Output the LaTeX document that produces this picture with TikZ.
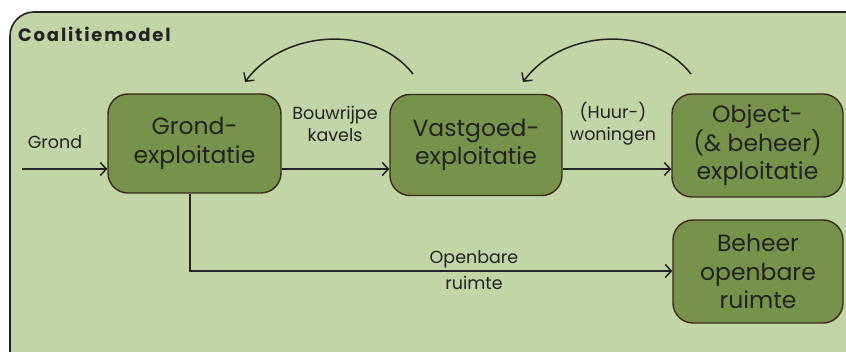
\documentclass[tikz,border=0pt]{standalone}
\usepackage{fontspec}
\setmainfont{Poppins}
\usetikzlibrary{arrows.meta,calc}

\definecolor{panelfill}{RGB}{194,213,166}
\definecolor{boxfill}{RGB}{119,147,75}
\definecolor{boxline}{RGB}{60,40,30}
\definecolor{ink}{RGB}{35,35,35}

\tikzset{
  panel/.style={draw=ink, line width=1.6pt, fill=panelfill, rounded corners=24pt},
  stage/.style={draw=boxline, line width=1.4pt, fill=boxfill, rounded corners=20pt,
    text=ink, align=center, font=\fontsize{23.5}{28.5}\selectfont, inner sep=0pt},
  flowlabel/.style={text=ink, align=center, font=\fontsize{17.5}{22}\selectfont, inner sep=0pt},
  flow/.style={draw=ink, line width=1.5pt, -{Straight Barb[length=6pt,width=13pt,line width=1.5pt]}},
}

\begin{document}
\begin{tikzpicture}[x=1pt,y=-1pt]
\useasboundingbox (0,0) rectangle (846,352);

% outer frame
\draw[panel] (10,12) rectangle (870,376);
\node[anchor=west, text=ink, inner sep=0pt, font=\fontsize{18}{20}\selectfont\bfseries\addfontfeature{LetterSpace=10}]
  (title) at (18,34) {Coalitiemodel};

% stages
\node[stage, minimum width=173pt, minimum height=99pt] (grond) at (194.5,143.5) {Grond-\\exploitatie};
\node[stage, minimum width=172pt, minimum height=101pt] (vast) at (476,145) {Vastgoed-\\exploitatie};
\node[stage, minimum width=171pt, minimum height=103pt] (obj) at (757.5,145.5) {Object-\\(\& beheer)\\exploitatie};
\node[stage, minimum width=170pt, minimum height=103pt] (beh) at (758,271.5) {Beheer\\openbare\\ruimte};

% main flow
\coordinate (gin) at (22,169);
\coordinate (bend) at (190,271);
\draw[flow] (gin) -- (gin -| grond.west);
\draw[flow] (grond.east |- gin) -- (vast.west |- gin);
\draw[flow] (vast.east |- gin) -- (obj.west |- gin);
\draw[flow] (bend |- grond.south) -- (bend) -- (beh.west |- bend);

% flow labels
\node[flowlabel] (lgrond) at (55,142) {Grond};
\node[flowlabel] (lkavels) at (335,124) {Bouwrijpe\\kavels};
\node[flowlabel] (lwon) at (613,124) {(Huur-)\\woningen};
\node[flowlabel] (lopen1) at (474,259) {Openbare};
\node[flowlabel] (lopen2) at (474,283) {ruimte};

% feedback arcs
\coordinate (fb1s) at (413,74);
\coordinate (fb1e) at (245,82);
\coordinate (fb2s) at (691,74);
\coordinate (fb2e) at (523,82);
\draw[flow] (fb1s) .. controls (375,25) and (285,28) .. (fb1e);
\draw[flow] (fb2s) .. controls (653,25) and (563,28) .. (fb2e);
\end{tikzpicture}
\end{document}
